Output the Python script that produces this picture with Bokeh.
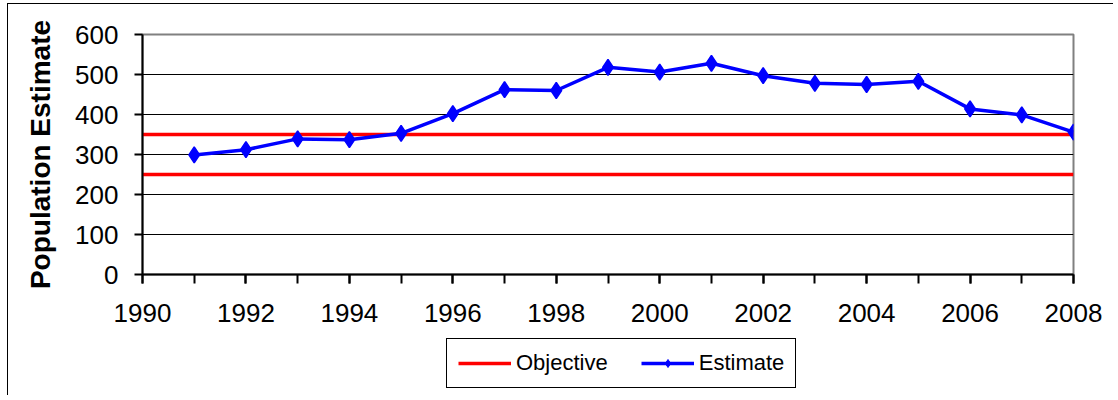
from bokeh.plotting import figure
from bokeh.layouts import column
from bokeh.models import SingleIntervalTicker, FixedTicker, Legend, LegendItem
from bokeh.embed import file_html
from bokeh.resources import INLINE

# ---- data ----
years = [1991, 1992, 1993, 1994, 1995, 1996, 1997, 1998, 1999,
         2000, 2001, 2002, 2003, 2004, 2005, 2006, 2007, 2008]
estimates = [299, 312, 339, 337, 353, 402, 462, 460, 518,
             506, 528, 497, 478, 475, 483, 414, 399, 356]
objective_x = [1990, 2008]
objective_low = [250, 250]
objective_high = [350, 350]
y_grid_values = [100, 200, 300, 400, 500]
legend_labels = ["Objective", "Estimate"]

FONT = "Liberation Sans"
RED = "#FF0000"
BLUE = "#0000FF"

p = figure(width=1105, height=329, x_range=(1990, 2008), y_range=(0, 600),
           output_backend="svg", toolbar_location=None,
           min_border_left=134, min_border_right=40,
           min_border_top=30, min_border_bottom=59)

p.background_fill_color = "white"
p.border_fill_color = "white"
p.outline_line_color = "#808080"
p.outline_line_width = 2

# axes
p.xaxis.ticker = SingleIntervalTicker(interval=2, num_minor_ticks=2)
p.yaxis.ticker = SingleIntervalTicker(interval=100, num_minor_ticks=0)
for ax in (p.xaxis, p.yaxis):
    ax.axis_line_color = "black"
    ax.axis_line_width = 2
    ax.major_tick_line_color = "black"
    ax.major_tick_line_width = 2
    ax.major_tick_in = 0
    ax.major_label_text_font = FONT
    ax.major_label_text_font_size = "26px"
    ax.major_label_text_color = "black"
p.xaxis.major_tick_out = 9
p.xaxis.minor_tick_out = 9
p.xaxis.minor_tick_in = 0
p.xaxis.minor_tick_line_color = "black"
p.xaxis.minor_tick_line_width = 2
p.xaxis.major_label_standoff = 20
p.yaxis.major_tick_out = 8
p.yaxis.minor_tick_line_color = None
p.yaxis.major_label_standoff = 16
p.yaxis.axis_label = "Population Estimate"
p.yaxis.axis_label_text_font = FONT
p.yaxis.axis_label_text_font_size = "28px"
p.yaxis.axis_label_text_font_style = "bold"
p.yaxis.axis_label_text_color = "black"
p.yaxis.axis_label_standoff = 16

# grid
p.xgrid.visible = False
p.ygrid.ticker = FixedTicker(ticks=y_grid_values)
p.ygrid.grid_line_color = "black"
p.ygrid.grid_line_width = 1

# objective lines
p.line(objective_x, objective_low, line_color=RED, line_width=3.5)
p.line(objective_x, objective_high, line_color=RED, line_width=3.5)

# estimate
p.line(years, estimates, line_color=BLUE, line_width=3.5)
p.scatter(years, estimates, marker="diamond", size=16,
          fill_color=BLUE, line_color=BLUE, line_width=1.5)

# ---- legend strip (its frame is aligned with the main frame by the column) ----
lg = figure(width=1105, height=62, x_range=(0, 1), y_range=(0, 1),
            output_backend="svg", toolbar_location=None,
            x_axis_location=None, y_axis_location=None,
            min_border=0, min_border_left=0, min_border_right=0,
            min_border_top=0, min_border_bottom=0)
lg.grid.visible = False
lg.outline_line_color = None
lg.background_fill_color = "white"
lg.border_fill_color = "white"

leg_obj = lg.line([-10, -9], [-10, -10], line_color=RED, line_width=3.5)
leg_est_l = lg.line([-10, -9], [-10, -10], line_color=BLUE, line_width=3.5)
leg_est_p = lg.scatter([-10], [-10], marker="diamond", size=11,
                       fill_color=BLUE, line_color=BLUE)

legend = Legend(items=[LegendItem(label=legend_labels[0], renderers=[leg_obj]),
                       LegendItem(label=legend_labels[1], renderers=[leg_est_l, leg_est_p])],
                orientation="horizontal", location=(304, 7),
                border_line_color="black", border_line_width=1.5,
                border_line_alpha=1.0,
                padding=11, spacing=33, glyph_width=53, glyph_height=20,
                label_height=20,
                label_standoff=5, label_text_font=FONT,
                label_text_font_size="22px", label_text_color="black",
                margin=0, background_fill_color="white", background_fill_alpha=1.0)
lg.add_layout(legend, "center")

layout = column(p, lg, spacing=0, margin=(3, 0, 0, 7),
                styles={"border-left": "1px solid black",
                        "border-top": "1px solid black"})

open("out.html", "w").write(file_html(layout, INLINE))
